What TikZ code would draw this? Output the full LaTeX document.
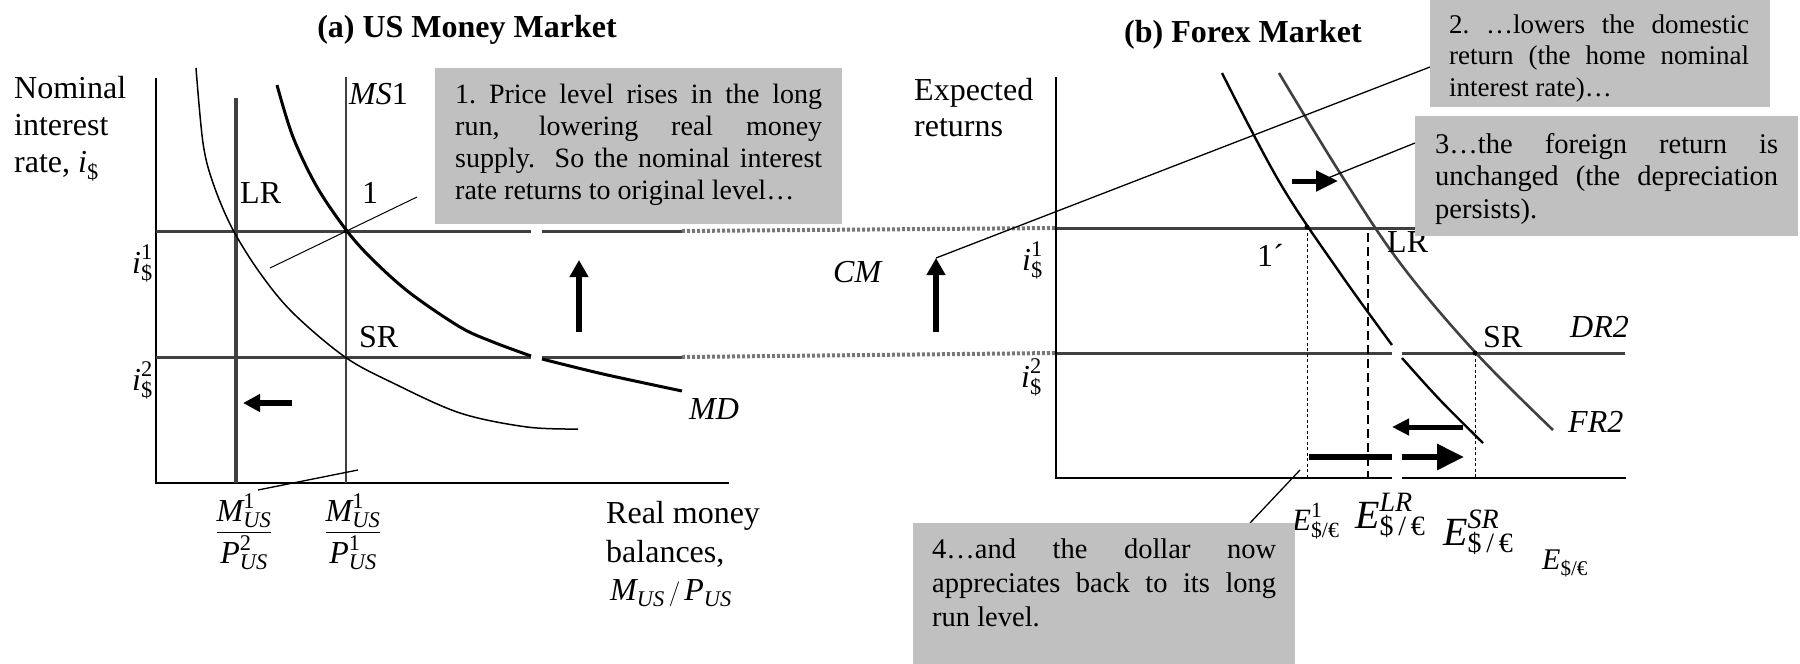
\documentclass[tikz,border=0pt]{standalone}
\usepackage{amsmath}
\usepackage{fontspec}
\setmainfont{Liberation Serif}
\usetikzlibrary{arrows.meta}
\definecolor{boxgray}{HTML}{C0C0C0}
\definecolor{dkgray}{HTML}{404040}
\definecolor{dotgray}{HTML}{777777}
\tikzset{
  lbl/.style={inner sep=0pt, anchor=base west, font=\fontsize{32}{37}\selectfont},
  ilbl/.style={lbl, font=\fontsize{32}{37}\selectfont\itshape},
  ttl/.style={inner sep=0pt, anchor=base, font=\fontsize{32}{37}\selectfont\bfseries},
  notebox/.style={fill=boxgray, draw=none, inner sep=0pt, anchor=north west},
  boxtext/.style={inner sep=0pt, anchor=base west, align=justify},
  axisline/.style={line width=1.5pt, black},
  rateline/.style={line width=3pt, dkgray},
  dotline/.style={line width=4pt, dotgray, dash pattern=on 3pt off 2pt},
  thinline/.style={line width=1.3pt, black},
  guide/.style={line width=1pt, black, dash pattern=on 3pt off 2.5pt},
  lrguide/.style={line width=2.5pt, black, dash pattern=on 9pt off 5pt},
  fatarrow/.style={line width=5.5pt, black, -{Triangle[width=18pt,length=17pt]}},
  dot/.style={circle, fill=black, inner sep=0pt, minimum size=5pt},
}
\begin{document}
\begin{tikzpicture}[x=1pt,y=-1pt]
\useasboundingbox (0,0) rectangle (1800,664);

% ---------- (a) US money market ----------
\coordinate (LaxTop) at (156,78);
\coordinate (Lorig) at (156,483);
\coordinate (LaxEnd) at (729,483);
\draw[axisline] (LaxTop) -- (Lorig) -- (LaxEnd);

\coordinate (LRtop) at (236,98);
\coordinate (LRbot) at (236,483);
\draw[line width=3.2pt, dkgray] (LRtop) -- (LRbot);
\coordinate (MStop) at (346,77);
\coordinate (MSbot) at (346,483);
\draw[line width=2.2pt, dkgray] (MStop) -- (MSbot);

% interest rate lines
\coordinate (i1a) at (156,231); \coordinate (i1b) at (531,231);
\coordinate (i1c) at (542,231); \coordinate (i1d) at (682,231);
\coordinate (i1e) at (1056,228); \coordinate (i1f) at (1625,228);
\coordinate (i2a) at (156,357); \coordinate (i2b) at (531,357);
\coordinate (i2c) at (542,357); \coordinate (i2d) at (682,357);
\coordinate (i2e) at (1056,353); \coordinate (i2f) at (1392,353);
\coordinate (i2g) at (1402,353); \coordinate (i2h) at (1625,353);
\draw[rateline] (i1a) -- (i1b);
\draw[rateline] (i1c) -- (i1d);
\draw[dotline] (i1d) -- (i1e);
\draw[rateline] (i1e) -- (i1f);
\draw[rateline] (i2a) -- (i2b);
\draw[rateline] (i2c) -- (i2d);
\draw[dotline] (i2d) -- (i2e);
\draw[rateline] (i2e) -- (i2f);
\draw[rateline] (i2g) -- (i2h);

% money demand curves
\draw[line width=1.5pt] plot[smooth, tension=0.55] coordinates
  {(196,68) (203,143) (213,183) (232,228) (260,273) (293,313) (345,357) (393,383) (460,413) (527,427) (578,429)};
\draw[line width=3pt] plot[smooth, tension=0.55] coordinates
  {(277,85) (293,137) (317,187) (347,231) (373,260) (410,293) (460,327) (493,342) (531,356)};
\draw[line width=3pt] plot[smooth, tension=0.55] coordinates
  {(542,359) (603,374) (682,391)};

\node[dot] (pt1) at (346,231) {};

% pointer lines
\coordinate (d1a) at (270,268); \coordinate (d1b) at (417,197);
\draw[thinline, line width=1pt] (d1a) -- (d1b);
\coordinate (d2a) at (258,490); \coordinate (d2b) at (358,470);
\draw[thinline] (d2a) -- (d2b);

% arrows
\coordinate (ua1) at (579,332); \coordinate (ua2) at (579,260);
\draw[fatarrow] (ua1) -- (ua2);
\coordinate (la1) at (292,403); \coordinate (la2) at (243,403);
\draw[fatarrow, line width=6pt, -{Triangle[width=17pt,length=17pt]}] (la1) -- (la2);

% labels (a)
\node[ttl] (ttlA) at (467,37) {(a) US Money Market};
\node[lbl] (yA1) at (14,98) {Nominal};
\node[lbl] (yA2) at (14,135) {interest};
\node[lbl] (yA3) at (14,172) {rate, $\textit{i}_{\text{\$}}$};
\node[lbl] (lLR) at (240,203) {LR};
\node[lbl] (l1) at (362,203) {1};
\node[lbl] (lMS) at (349,104) {\textit{MS}1};
\node[lbl] (lSR) at (359,347) {SR};
\node[ilbl] (lMD) at (689,419) {MD};
\node[lbl] (li1) at (132,273) {$\textit{i}^{\text{1}}_{\text{\$}}$};
\node[lbl] (li2) at (132,390) {$\textit{i}^{\text{2}}_{\text{\$}}$};
\node[lbl, anchor=center] (frA) at (244,532)
  {$\dfrac{\textit{M}^{\text{1}}_{\textit{US}}}{\textit{P}^{\text{2}}_{\textit{US}}}$};
\node[lbl, anchor=center] (frB) at (353,532)
  {$\dfrac{\textit{M}^{\text{1}}_{\textit{US}}}{\textit{P}^{\text{1}}_{\textit{US}}}$};
\node[lbl] (xA1) at (606,523) {Real money};
\node[lbl] (xA2) at (606,562) {balances,};
\node[lbl, font=\fontsize{32}{36}\selectfont] (xA3) at (610,600)
  {$\textit{M}_{\textit{US}}\,/\,\textit{P}_{\textit{US}}$};
\node[ilbl] (lCM) at (833,282) {CM};

% ---------- (b) Forex market ----------
\coordinate (RaxTop) at (1056,77);
\coordinate (Rorig) at (1056,478);
\coordinate (RaxA) at (1392,478);
\coordinate (RaxB) at (1402,478);
\coordinate (RaxEnd) at (1626,478);
\draw[axisline] (RaxTop) -- (Rorig) -- (RaxA);
\draw[axisline] (RaxB) -- (RaxEnd);

% guides
\coordinate (g1a) at (1307,227); \coordinate (g1b) at (1307,478);
\draw[guide] (g1a) -- (g1b);
\coordinate (g2a) at (1368,233); \coordinate (g2b) at (1368,478);
\draw[lrguide] (g2a) -- (g2b);
\coordinate (g3a) at (1475,353); \coordinate (g3b) at (1475,478);
\draw[guide] (g3a) -- (g3b);

% return curves
\draw[line width=2.4pt] plot[smooth, tension=0.6] coordinates
  {(1222,73) (1280,183) (1340,273) (1392,345)};
\draw[line width=2.4pt] plot[smooth, tension=0.6] coordinates
  {(1402,358) (1440,400) (1483,443)};
\draw[line width=2.6pt, dkgray] plot[smooth, tension=0.6] coordinates
  {(1279,73) (1340,173) (1400,263) (1475,352) (1553,430)};

\node[dot] (pt1p) at (1307,227) {};
\node[dot] (ptSR) at (1475,353) {};

% arrows (b)
\coordinate (ub1) at (936,332); \coordinate (ub2) at (936,258);
\draw[fatarrow] (ub1) -- (ub2);
\coordinate (ra1) at (1292,181); \coordinate (ra2) at (1338,181);
\draw[fatarrow, line width=5pt, -{Triangle[width=20pt,length=22pt]}] (ra1) -- (ra2);
\coordinate (lb1) at (1463,427); \coordinate (lb2) at (1392,427);
\draw[fatarrow, line width=5pt, -{Triangle[width=16pt,length=17pt]}] (lb1) -- (lb2);
\coordinate (bb0) at (1309,457); \coordinate (bb1) at (1392,457);
\coordinate (bb2) at (1402,457); \coordinate (bb3) at (1464,457);
\draw[line width=6pt] (bb0) -- (bb1);
\draw[fatarrow, line width=6pt, -{Triangle[width=25pt,length=27pt]}] (bb2) -- (bb3);

% pointer lines (b)
\coordinate (p2a) at (936,258); \coordinate (p2b) at (1430,67);
\draw[thinline] (p2a) -- (p2b);
\coordinate (p3a) at (1415,143); \coordinate (p3b) at (1328,178);
\draw[thinline] (p3a) -- (p3b);
\coordinate (p4a) at (1250,523); \coordinate (p4b) at (1300,470);
\draw[thinline] (p4a) -- (p4b);

% labels (b)
\node[ttl] (ttlB) at (1243,42) {(b) Forex Market};
\node[lbl] (yB1) at (914,100) {Expected};
\node[lbl] (yB2) at (914,136) {returns};
\node[lbl] (ri1) at (1022,270) {$\textit{i}^{\text{1}}_{\text{\$}}$};
\node[lbl] (ri2) at (1021,387) {$\textit{i}^{\text{2}}_{\text{\$}}$};
\node[lbl] (l1p) at (1257,266) {1´};
\node[lbl] (rLR) at (1387,252) {LR};
\node[lbl] (rSR) at (1483,347) {SR};
\node[ilbl] (lDR) at (1570,337) {DR2};
\node[ilbl] (lFR) at (1568,432) {FR2};
\node[lbl, font=\fontsize{31}{36}\selectfont] (E1) at (1292,530)
  {$\textit{E}^{\text{1}}_{\text{\$/€}}$};
\node[lbl, font=\fontsize{40}{44}\selectfont] (ELR) at (1355,528)
  {$\textit{E}^{\textit{LR}}_{\text{\$\,/\,€}}$};
\node[lbl, font=\fontsize{40}{44}\selectfont] (ESR) at (1443,545)
  {$\textit{E}^{\textit{SR}}_{\text{\$\,/\,€}}$};
\node[lbl, font=\fontsize{30}{34}\selectfont] (Eax) at (1542,569)
  {$\textit{E}_{\text{\$/€}}$};

% ---------- note boxes ----------
\node[notebox, minimum width=407pt, minimum height=156pt] (box1) at (435,68) {};
\node[boxtext, text width=367pt, font=\fontsize{28}{32.3}\selectfont] (txt1) at (455,103)
  {1.\ Price level rises in the long\linebreak run, lowering real money\linebreak supply.\ \ So the nominal interest\linebreak rate returns to original level…};

\node[notebox, minimum width=340pt, minimum height=107pt] (box2) at (1430,0) {};
\node[boxtext, text width=300pt, font=\fontsize{27}{31.5}\selectfont] (txt2) at (1449,33)
  {2.\ …lowers the domestic\linebreak return (the home nominal\linebreak interest rate)…};

\node[notebox, minimum width=383pt, minimum height=120pt] (box3) at (1415,116) {};
\node[boxtext, text width=343pt, font=\fontsize{28.5}{32.8}\selectfont] (txt3) at (1435,153)
  {3…the foreign return is\linebreak unchanged (the depreciation\linebreak persists).};

\node[notebox, minimum width=382pt, minimum height=141pt] (box4) at (913,523) {};
\node[boxtext, text width=344pt, font=\fontsize{28.5}{34}\selectfont] (txt4) at (932,558)
  {4…and the dollar now\linebreak appreciates back to its long\linebreak run level.};
\end{tikzpicture}
\end{document}
